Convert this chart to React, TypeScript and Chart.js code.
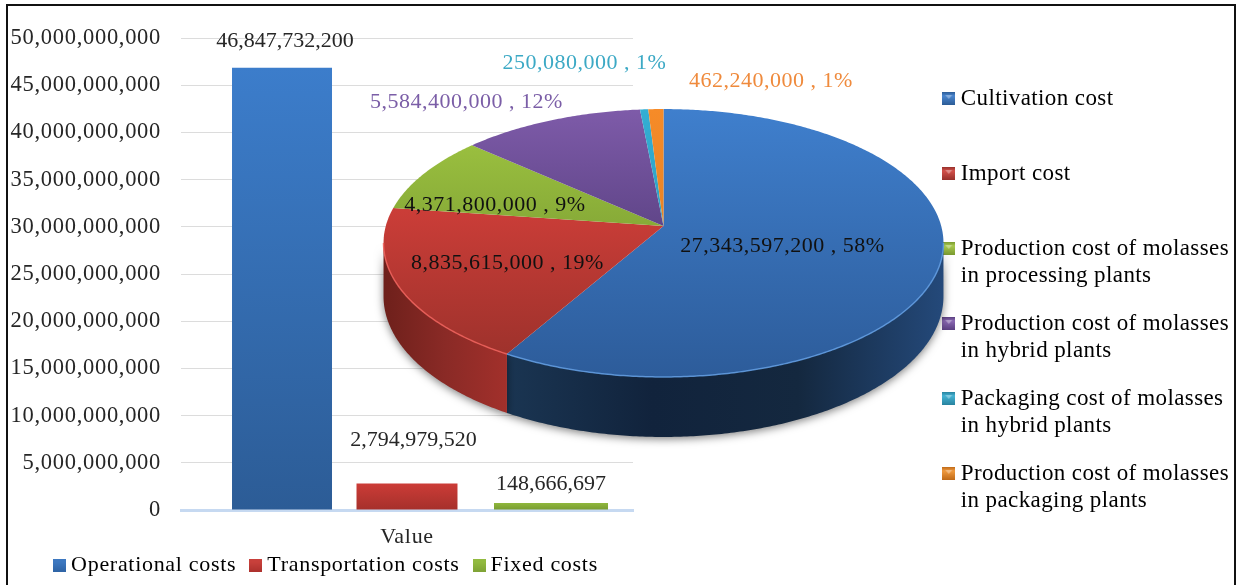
import React, { useEffect, useRef } from "react";
import { Chart, registerables } from "chart.js";

Chart.register(...registerables);

const SERIF = "'Liberation Serif', 'Times New Roman', serif";

// Cost groups (left-hand column chart)
const groupNames = ["Operational costs", "Transportation costs", "Fixed costs"];
const groupValues = [46847732200, 2794979520, 148666697];
const axisCategory = ["Value"];

// Breakdown of the operational costs (perspective pie)
const pieNames: string[][] = [
  ["Cultivation cost", " "],
  ["Import cost", " "],
  ["Production cost of molasses", "in processing plants"],
  ["Production cost of molasses", "in hybrid plants"],
  ["Packaging cost of molasses", "in hybrid plants"],
  ["Production cost of molasses", "in packaging plants"],
];
const pieValues = [27343597200, 8835615000, 4371800000, 5584400000, 250080000, 462240000];

const fmt = (v: number) => v.toLocaleString("en-US");

function makeSwatch(light: string, dark: string, bevel: boolean) {
  const c = document.createElement("canvas");
  c.width = 13;
  c.height = 13;
  const g = c.getContext("2d")!;
  const grad = g.createLinearGradient(0, 0, 0, 13);
  grad.addColorStop(0, bevel ? dark : light);
  grad.addColorStop(0.3, light);
  grad.addColorStop(1, dark);
  g.fillStyle = grad;
  g.fillRect(0, 0, 13, 13);
  if (bevel) {
    g.fillStyle = "rgba(255,255,255,0.35)";
    g.beginPath();
    g.moveTo(3, 3);
    g.lineTo(10, 3);
    g.lineTo(6.5, 7);
    g.closePath();
    g.fill();
  }
  return c;
}

const spacing = (px: number) => ({
  beforeUpdate(chart: any) {
    chart.ctx.letterSpacing = px + "px";
  },
  beforeDraw(chart: any) {
    chart.ctx.letterSpacing = px + "px";
  },
});

// Moves the bottom legend into its final slot once the layout has settled
const legendOffset = {
  id: "legendOffset",
  afterLayout(chart: any, _a: any, opts: any) {
    const l = chart.legend;
    l.left += opts.dx;
    l.right += opts.dx;
    l.top += opts.dy;
    l.bottom += opts.dy;
  },
};

// Value captions above the columns
const columnCaptions = {
  id: "columnCaptions",
  afterDatasetsDraw(chart: any, _a: any, opts: any) {
    const ctx = chart.ctx;
    ctx.save();
    ctx.letterSpacing = "0px";
    ctx.font = `22px ${SERIF}`;
    ctx.fillStyle = "#262626";
    ctx.textAlign = "center";
    ctx.textBaseline = "middle";
    chart.data.datasets.forEach((ds: any, i: number) => {
      const bar = chart.getDatasetMeta(i).data[0];
      ctx.fillText(fmt(ds.data[0]), bar.x + opts.shift[i], bar.y - opts.lift[i]);
    });
    ctx.restore();
  },
};

const pieLook = [
  { top: ["#3f7fcd", "#2d5c9a"], wall: ["#24497a", "#14283f", "#11233c", "#1a3552"], rim: "rgba(96,156,226,0.85)" },
  { top: ["#ea4540", "#97302a"], wall: ["#a2302b", "#8a2a26", "#6e201b"], rim: "rgba(238,96,90,0.85)" },
  { top: ["#a2c842", "#64842a"], wall: ["#6f8c2c", "#5a7324"], rim: "rgba(190,220,110,0.8)" },
  { top: ["#7e5ba9", "#3a2a60"], wall: ["#4a3468", "#3a2a54"], rim: "rgba(150,120,190,0.8)" },
  { top: ["#33aed3", "#2a8fad"], wall: ["#1f6f88", "#1a5c70"], rim: "rgba(110,200,225,0.8)" },
  { top: ["#f68b28", "#d87a20"], wall: ["#a85f18", "#8a4e14"], rim: "rgba(250,170,90,0.8)" },
];

// Draws the pie's arc elements through a perspective projection with a solid side wall
const perspectivePie = {
  id: "perspectivePie",
  beforeDatasetDraw() {
    return false;
  },
  afterDatasetsDraw(chart: any, _a: any, opts: any) {
    const ctx = chart.ctx;
    const { cx, hubY, spanX, spanY, tilt, depth } = opts;
    const project = (a: number) => {
      const u = Math.cos(a);
      const v = -Math.sin(a);
      const d = 1 + tilt * v;
      return { x: cx + (spanX * u) / d, y: hubY - (spanY * v) / d, drop: (depth * (1 - tilt)) / d };
    };
    const trace = (from: number, to: number, lower: boolean, first: boolean) => {
      const n = Math.max(2, Math.ceil(Math.abs(to - from) / 0.01));
      for (let i = 0; i <= n; i++) {
        const p = project(from + ((to - from) * i) / n);
        const y = lower ? p.y + p.drop : p.y;
        if (first && i === 0) ctx.moveTo(p.x, y);
        else ctx.lineTo(p.x, y);
      }
    };
    const arcs = chart.getDatasetMeta(0).data;
    const frontFrom = tilt;
    const frontTo = Math.PI - tilt;

    ctx.save();
    ctx.letterSpacing = "0px";

    arcs.forEach((arc: any, i: number) => {
      const from = Math.max(arc.startAngle, frontFrom);
      const to = Math.min(arc.endAngle, frontTo);
      if (to <= from) return;
      const a = project(from);
      const b = project(to);
      const grad = ctx.createLinearGradient(a.x, 0, b.x, 0);
      const stops = pieLook[i].wall;
      stops.forEach((s: string, k: number) => grad.addColorStop(k / (stops.length - 1), s));
      ctx.save();
      ctx.shadowColor = "rgba(0,0,0,0.5)";
      ctx.shadowBlur = 9;
      ctx.shadowOffsetY = 2;
      ctx.fillStyle = grad;
      ctx.beginPath();
      trace(from, to, false, true);
      trace(to, from, true, false);
      ctx.closePath();
      ctx.fill();
      ctx.restore();
    });

    arcs.forEach((arc: any, i: number) => {
      const grad = ctx.createLinearGradient(0, opts.faceTop, 0, opts.faceBottom);
      grad.addColorStop(0, pieLook[i].top[0]);
      grad.addColorStop(1, pieLook[i].top[1]);
      ctx.fillStyle = grad;
      ctx.beginPath();
      ctx.moveTo(cx, hubY);
      trace(arc.startAngle, arc.endAngle, false, false);
      ctx.closePath();
      ctx.fill();
    });

    arcs.forEach((arc: any, i: number) => {
      const from = Math.max(arc.startAngle, frontFrom);
      const to = Math.min(arc.endAngle, frontTo);
      if (to <= from) return;
      ctx.strokeStyle = pieLook[i].rim;
      ctx.lineWidth = 1.5;
      ctx.beginPath();
      trace(from, to, false, true);
      ctx.stroke();
    });

    const total = pieValues.reduce((s, v) => s + v, 0);
    ctx.font = `22px ${SERIF}`;
    ctx.letterSpacing = "0.5px";
    ctx.textBaseline = "middle";
    ctx.textAlign = "center";
    pieValues.forEach((v, i) => {
      const spot = opts.captions[i];
      ctx.fillStyle = spot.color;
      ctx.fillText(`${fmt(v)} , ${Math.round((v / total) * 100)}%`, spot.x, spot.y);
    });
    ctx.restore();
  },
};

export default function App() {
  const barRef = useRef<HTMLCanvasElement>(null);
  const pieRef = useRef<HTMLCanvasElement>(null);

  useEffect(() => {
    const columnStops = [
      ["#3c7dcb", "#2c5c96"],
      ["#cc3c37", "#a5302b"],
      ["#90b83d", "#779a32"],
    ];
    const columnFill = (i: number) => (c: any) => {
      const { chart } = c;
      const y = chart.scales?.y;
      if (!y) return columnStops[i][0];
      const top = Math.min(y.getPixelForValue(groupValues[i]), y.bottom - 7);
      const g = chart.ctx.createLinearGradient(0, top, 0, y.bottom);
      g.addColorStop(0, columnStops[i][0]);
      g.addColorStop(1, columnStops[i][1]);
      return g;
    };
    const groupSwatches = [
      makeSwatch("#3d78c0", "#2f64a6", false),
      makeSwatch("#c8403b", "#ad322e", false),
      makeSwatch("#92ba40", "#7fa336", false),
    ];
    const widths = [
      { categoryPercentage: 0.8296, barPercentage: 0.8 },
      { categoryPercentage: 0.8378, barPercentage: 0.8 },
      { categoryPercentage: 0.9558, barPercentage: 0.7917 },
    ];

    const bars = new Chart(barRef.current!, {
      type: "bar",
      data: {
        labels: axisCategory,
        datasets: groupNames.map((name, i) => ({
          label: name,
          data: [groupValues[i]],
          backgroundColor: columnFill(i),
          minBarLength: i === 2 ? 7 : 0,
          ...widths[i],
        })),
      },
      plugins: [{ id: "spacing", ...spacing(0.7) }, legendOffset, columnCaptions],
      options: {
        animation: false,
        responsive: false,
        events: [],
        layout: { padding: { top: 38, right: 17, left: 0, bottom: 0 } },
        scales: {
          x: {
            afterFit(s: any) {
              s.height = 24;
            },
            grid: { display: false, drawTicks: false },
            border: { color: "#c6d9f1", width: 3 },
            ticks: { display: false },
            title: {
              display: true,
              text: axisCategory[0],
              color: "#262626",
              font: { family: SERIF, size: 22 },
              padding: { top: 0, bottom: -16.2 },
            },
          },
          y: {
            min: 0,
            max: 50000000000,
            afterFit(s: any) {
              s.width = 181;
            },
            grid: { color: "#dcdcdc", lineWidth: 1, drawTicks: false },
            border: { display: false },
            ticks: {
              stepSize: 5000000000,
              padding: 20,
              color: "#262626",
              font: { family: SERIF, size: 22.5 },
              callback: (v: any) => fmt(Number(v)),
            },
          },
        },
        plugins: {
          tooltip: { enabled: false },
          columnCaptions: { shift: [3, 6.5, 0], lift: [27, 43, 19] },
          legendOffset: { dx: 12, dy: 1 },
          legend: {
            position: "bottom",
            labels: {
              color: "#262626",
              font: { family: SERIF, size: 22 },
              boxWidth: 1,
              usePointStyle: true,
              padding: 19,
              generateLabels: () =>
                groupNames.map((text, i) => ({
                  text,
                  fillStyle: "transparent",
                  strokeStyle: "transparent",
                  lineWidth: 0,
                  pointStyle: groupSwatches[i],
                  datasetIndex: i,
                })),
            },
          },
        },
      } as any,
    } as any);

    const pieSwatches = [
      makeSwatch("#4a86cf", "#2c5c96", true),
      makeSwatch("#d3504a", "#96302b", true),
      makeSwatch("#a8c94e", "#7a9a30", true),
      makeSwatch("#8a68b3", "#5a3f80", true),
      makeSwatch("#45b3d3", "#28839f", true),
      makeSwatch("#f09a3e", "#bf6a18", true),
    ];

    const pie = new Chart(pieRef.current!, {
      type: "pie",
      data: {
        labels: pieNames.map((n) => n[0]),
        datasets: [{ data: pieValues, borderWidth: 0 }],
      },
      plugins: [{ id: "spacing", ...spacing(0.4) }, perspectivePie],
      options: {
        animation: false,
        responsive: false,
        events: [],
        layout: { padding: { top: 66, right: 21 } },
        plugins: {
          tooltip: { enabled: false },
          perspectivePie: {
            cx: 663.5,
            hubY: 226,
            spanX: 277.7,
            spanY: 131.8,
            tilt: 0.127,
            depth: 60,
            faceTop: 109,
            faceBottom: 377,
            captions: [
              { x: 782.5, y: 246, color: "#111" },
              { x: 507.5, y: 263, color: "#111" },
              { x: 495, y: 205, color: "#111" },
              { x: 466.5, y: 102, color: "#7b5ea7" },
              { x: 584.5, y: 63, color: "#3ca9c5" },
              { x: 771, y: 81, color: "#ef8a3c" },
            ],
          },
          legend: {
            position: "right",
            align: "start",
            labels: {
              color: "#1e1e1e",
              font: { family: SERIF, size: 23, lineHeight: "27px" },
              boxWidth: 1,
              usePointStyle: true,
              padding: 21,
              generateLabels: () =>
                pieNames.map((text, i) => ({
                  text,
                  fillStyle: "transparent",
                  strokeStyle: "transparent",
                  lineWidth: 0,
                  pointStyle: pieSwatches[i],
                  index: i,
                })),
            },
          },
        },
      } as any,
    } as any);

    return () => {
      bars.destroy();
      pie.destroy();
    };
  }, []);

  return (
    <div style={{ position: "absolute", left: 0, top: 0, width: 1239, height: 585, overflow: "hidden", background: "#fff" }}>
      <canvas ref={barRef} width={650} height={585} style={{ position: "absolute", left: 0, top: 0 }} />
      <canvas ref={pieRef} width={1260} height={585} style={{ position: "absolute", left: 0, top: 0 }} />
      <div
        style={{
          position: "absolute",
          left: 6,
          top: 4,
          width: 1226,
          height: 600,
          borderTop: "2px solid #111",
          borderLeft: "2px solid #111",
          borderRight: "2px solid #111",
        }}
      />
    </div>
  );
}
